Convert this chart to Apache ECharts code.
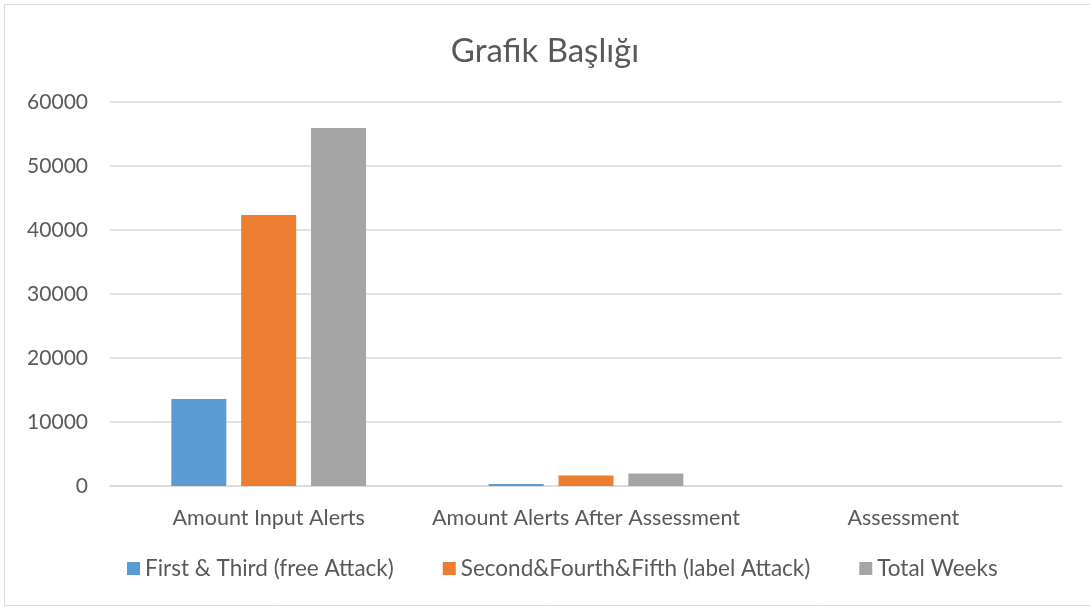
<!DOCTYPE html>
<html>
<head>
<meta charset="utf-8">
<script src="https://cdn.jsdelivr.net/npm/echarts@6/dist/echarts.min.js"></script>
<style>
  html, body { margin: 0; padding: 0; background: #fff; }
  #chart { width: 1090px; height: 608px; }
</style>
</head>
<body>
<div id="chart"></div>
<script>
// categories and values
var categories = ['Amount Input Alerts', 'Amount Alerts After Assessment', 'Assessment'];
var firstThird = [13600, 300, 0];
var secondFourthFifth = [42350, 1650, 0];
var totalWeeks = [55950, 1950, 0];
var yTicks = [0, 10000, 20000, 30000, 40000, 50000, 60000];

var seriesNames = ['First & Third (free Attack)', 'Second&Fourth&Fifth (label Attack)', 'Total Weeks'];
var colors = ['#5b9bd5', '#ed7d31', '#a5a5a5'];
var font = 'Lato, "Open Sans", sans-serif';

var myChart = echarts.init(document.getElementById('chart'));

var option = {
    animation: false,
    color: colors,
    title: {
        text: 'Grafik Başlığı',
        left: 'center',
        top: 30,
        textStyle: { fontFamily: font, fontSize: 33, fontWeight: 'normal', color: '#595959' }
    },
    // outer chart border like the spreadsheet one
    graphic: [{
        type: 'rect',
        shape: { x: 4.5, y: 4.5, width: 1100, height: 601 },
        style: { fill: 'none', stroke: '#d9d9d9', lineWidth: 1 },
        silent: true
    }],
    legend: {
        bottom: 23,
        left: 122,
        itemWidth: 13,
        itemHeight: 13,
        itemGap: 49,
        itemStyle: { borderWidth: 0 },
        icon: 'rect',
        textStyle: { fontFamily: font, fontSize: 22.5, color: '#595959' },
        data: seriesNames
    },
    grid: { left: 110, right: 28, top: 102, bottom: 122 },
    xAxis: {
        type: 'category',
        data: categories,
        axisLine: { lineStyle: { color: '#d9d9d9', width: 1.5 } },
        axisTick: { show: false },
        axisLabel: { fontFamily: font, fontSize: 21.5, color: '#595959', margin: 21, interval: 0 }
    },
    yAxis: {
        type: 'value',
        min: yTicks[0],
        max: yTicks[yTicks.length - 1],
        interval: 10000,
        axisLine: { show: false },
        axisTick: { show: false },
        splitLine: { lineStyle: { color: '#d9d9d9', width: 1.5 } },
        axisLabel: {
            fontFamily: font, fontSize: 21, color: '#595959', margin: 22,
            formatter: function (v) { return String(v); }
        }
    },
    series: [
        { name: seriesNames[0], type: 'bar', data: firstThird, barWidth: 55, barGap: '27%' },
        { name: seriesNames[1], type: 'bar', data: secondFourthFifth, barWidth: 55, barGap: '27%' },
        { name: seriesNames[2], type: 'bar', data: totalWeeks, barWidth: 55, barGap: '27%' }
    ]
};

myChart.setOption(option);
</script>
</body>
</html>
